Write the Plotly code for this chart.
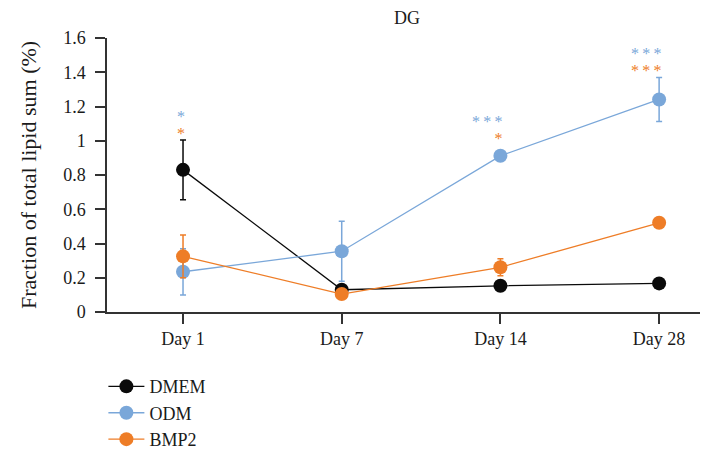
import plotly.graph_objects as go

days = ["Day 1", "Day 7", "Day 14", "Day 28"]
dmem = [0.83, 0.13, 0.153, 0.167]
dmem_err = [0.175, 0.0, 0.0, 0.0]
odm = [0.235, 0.355, 0.912, 1.241]
odm_err = [0.135, 0.175, 0.0, 0.128]
bmp2 = [0.325, 0.105, 0.261, 0.521]
bmp2_err = [0.125, 0.0, 0.05, 0.0]

# significance marks per day: ODM (upper row) and BMP2 (lower row) vs DMEM
sig_odm = ["*", "", "***", "***"]
sig_bmp2 = ["*", "", "*", "***"]
sig_y = [1.09, None, 1.065, 1.462]

BLACK = "#0a0a0a"
BLUE = "#7aa7d9"
ORANGE = "#ee7d27"
FONT = "Liberation Serif"

xpos = list(range(len(days)))

fig = go.Figure()
for name, vals, errs, col in [("DMEM", dmem, dmem_err, BLACK),
                              ("ODM", odm, odm_err, BLUE),
                              ("BMP2", bmp2, bmp2_err, ORANGE)]:
    fig.add_trace(go.Scatter(
        x=xpos, y=vals, name=name, mode="lines+markers",
        line=dict(color=col, width=1.3),
        marker=dict(color=col, size=14),
        error_y=dict(type="data", array=errs, visible=True, color=col,
                     thickness=1.5, width=3),
        legendgroup=name,
    ))

THIN = "\u2009"
for i in range(len(days)):
    if sig_y[i] is None:
        continue
    txt = (f"<span style='color:{BLUE};font-size:16px'>{THIN.join(sig_odm[i])}</span><br>"
           f"<span style='color:{ORANGE};font-size:16px'>{THIN.join(sig_bmp2[i])}</span>")
    fig.add_annotation(x=xpos[i], y=sig_y[i], text=txt, showarrow=False,
                       align="right", xanchor="right", yanchor="middle",
                       xshift=4, font=dict(family=FONT, size=13))

# page body has an 8px default margin; figure margins compensate for it
fig.update_layout(
    width=708, height=455,
    margin=dict(l=99, r=8, t=30, b=151, autoexpand=False),
    plot_bgcolor="white", paper_bgcolor="white",
    font=dict(family=FONT, size=18, color="#1a1a1a"),
    title=dict(text="DG", x=399 / 708, xanchor="center", y=1 - 10 / 455, yanchor="middle",
               font=dict(family=FONT, size=18, color="#1a1a1a")),
    showlegend=True,
    legend=dict(x=-0.006, y=-0.205, xanchor="left", yanchor="top",
                font=dict(family=FONT, size=18), tracegroupgap=0,
                bgcolor="rgba(0,0,0,0)", itemwidth=36),
)
fig.update_xaxes(
    tickmode="array", tickvals=xpos, ticktext=days,
    range=[-0.479, 3.308], showgrid=False, zeroline=False,
    showline=True, linecolor="#333333", linewidth=1.5,
    ticks="outside", ticklen=10, tickwidth=1.5, tickcolor="#333333",
)
fig.update_yaxes(
    range=[0, 1.6], tickvals=[0, 0.2, 0.4, 0.6, 0.8, 1, 1.2, 1.4, 1.6],
    ticktext=["0", "0.2", "0.4", "0.6", "0.8", "1", "1.2", "1.4", "1.6"],
    showgrid=False, zeroline=False,
    showline=True, linecolor="#333333", linewidth=1.5,
    ticks="outside", ticklen=10, tickwidth=1.5, tickcolor="#333333",
    ticklabelstandoff=6,
    title=dict(text="Fraction of total lipid sum (%)", standoff=20),
)

fig.write_html("out.html")
